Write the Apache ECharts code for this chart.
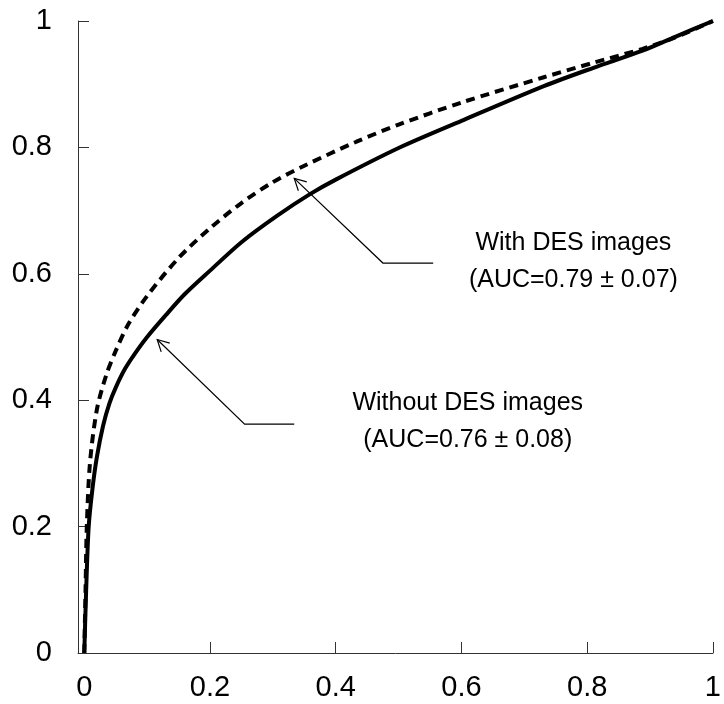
<!DOCTYPE html>
<html>
<head>
<meta charset="utf-8">
<script src="https://cdn.jsdelivr.net/npm/echarts@6/dist/echarts.min.js"></script>
<style>
html,body{margin:0;padding:0;background:#fff;}
#c{width:724px;height:704px;}
</style>
</head>
<body>
<div id="c"></div>
<script>
// Tick labels
var xTicks = [0, 0.2, 0.4, 0.6, 0.8, 1];
var yTicks = [0, 0.2, 0.4, 0.6, 0.8, 1];

// With DES images (dashed) - [FPF, TPF]
var withDesX = [0, 0.002, 0.004, 0.009, 0.02, 0.035, 0.05, 0.07, 0.1, 0.15, 0.2, 0.25, 0.3, 0.35, 0.433, 0.5, 0.6, 0.731, 0.81, 0.888, 0.94, 1];
var withDesY = [0, 0.1, 0.2, 0.3, 0.385, 0.44, 0.478, 0.52, 0.565, 0.625, 0.672, 0.712, 0.745, 0.771, 0.809, 0.836, 0.871, 0.911, 0.934, 0.956, 0.974, 1];

// Without DES images (solid)
var withoutDesX = [0, 0.003, 0.007, 0.013, 0.02, 0.03, 0.04, 0.05, 0.065, 0.08, 0.1, 0.13, 0.16, 0.2, 0.25, 0.307, 0.359, 0.4, 0.5, 0.6, 0.731, 0.81, 0.888, 0.94, 1];
var withoutDesY = [0, 0.1, 0.2, 0.26, 0.31, 0.36, 0.395, 0.42, 0.45, 0.473, 0.5, 0.535, 0.568, 0.605, 0.65, 0.692, 0.726, 0.749, 0.799, 0.842, 0.897, 0.926, 0.953, 0.975, 1];

// Annotations (data coordinates)
var annWith = {lines: ['With DES images', '(AUC=0.79 \u00b1 0.07)'], text: [0.778, 0.648], tip: [0.334, 0.751], elbow: [0.475, 0.617], end: [0.555, 0.617]};
var annWithout = {lines: ['Without DES images', '(AUC=0.76 \u00b1 0.08)'], text: [0.61, 0.395], tip: [0.116, 0.496], elbow: [0.255, 0.362], end: [0.334, 0.362]};

function pairs(xs, ys) { return xs.map(function (x, i) { return [x, ys[i]]; }); }

var FONT = '"Liberation Sans", Arial, sans-serif';
var chart = echarts.init(document.getElementById('c'), null, {renderer: 'canvas'});

var option = {
  animation: false,
  backgroundColor: '#fff',
  grid: {left: 78, right: 3, top: 21, bottom: 51, containLabel: false},
  xAxis: {
    type: 'value', min: -0.01, max: 1,
    splitLine: {show: false},
    axisLine: {onZero: false, lineStyle: {color: '#333', width: 1}},
    axisTick: {inside: true, length: 11, customValues: xTicks, lineStyle: {color: '#333'}},
    axisLabel: {customValues: xTicks, color: '#000', fontSize: 29, fontFamily: FONT, margin: 20}
  },
  yAxis: {
    type: 'value', min: 0, max: 1, interval: 0.2,
    splitLine: {show: false},
    axisLine: {show: true, onZero: false, lineStyle: {color: '#333', width: 1}},
    axisTick: {show: true, inside: true, length: 11, lineStyle: {color: '#333'}},
    axisLabel: {color: '#000', fontSize: 29, fontFamily: FONT, margin: 26}
  },
  series: [
    {
      name: 'With DES images', type: 'line', data: pairs(withDesX, withDesY),
      showSymbol: false, smooth: 0.3, z: 3,
      lineStyle: {color: '#000', width: 4, type: [9, 6]}
    },
    {
      name: 'Without DES images', type: 'line', data: pairs(withoutDesX, withoutDesY),
      showSymbol: false, smooth: 0.3, z: 4,
      lineStyle: {color: '#000', width: 4, type: 'solid'}
    }
  ]
};
chart.setOption(option);

function px(p) { return chart.convertToPixel({gridIndex: 0}, p); }

function annGraphics(a) {
  var t = px(a.text), tip = px(a.tip), el = px(a.elbow), en = px(a.end);
  var dx = tip[0] - el[0], dy = tip[1] - el[1];
  var L = Math.sqrt(dx * dx + dy * dy); dx /= L; dy /= L;
  var hl = 13, ang = 28 * Math.PI / 180;
  function rot(x, y, a) { return [x * Math.cos(a) - y * Math.sin(a), x * Math.sin(a) + y * Math.cos(a)]; }
  var r1 = rot(-dx, -dy, ang), r2 = rot(-dx, -dy, -ang);
  var els = [];
  els.push({type: 'polyline', shape: {points: [en, el, tip]}, style: {stroke: '#000', lineWidth: 1.2, fill: null}, z: 10});
  els.push({type: 'polyline', shape: {points: [[tip[0] + r1[0] * hl, tip[1] + r1[1] * hl], tip, [tip[0] + r2[0] * hl, tip[1] + r2[1] * hl]]}, style: {stroke: '#000', lineWidth: 1.2, fill: null}, z: 10});
  els.push({type: 'text', x: t[0], y: t[1], style: {text: a.lines[0], font: '25px ' + FONT, fill: '#000', align: 'center', verticalAlign: 'middle'}, z: 10});
  var t2 = [t[0], t[1] + 37];
  els.push({type: 'text', x: t2[0], y: t2[1], style: {text: a.lines[1], font: '25px ' + FONT, fill: '#000', align: 'center', verticalAlign: 'middle'}, z: 10});
  return els;
}

chart.setOption({graphic: annGraphics(annWith).concat(annGraphics(annWithout))});
</script>
</body>
</html>
